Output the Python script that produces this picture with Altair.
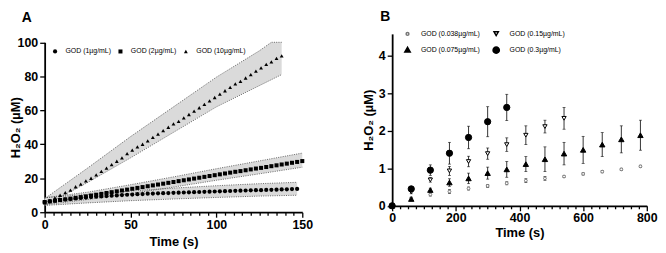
import altair as alt
import pandas as pd

FONT = "Liberation Sans"

# ---------------- Panel A data ----------------
a_series = ["GOD (1µg/mL)", "GOD (2µg/mL)", "GOD (10µg/mL)"]

a_time_1 = [0, 3, 6, 9, 12, 15, 18, 21, 24, 27, 30, 33, 36, 39, 42, 45, 48, 51, 54, 57,
            60, 63, 66, 69, 72, 75, 78, 81, 84, 87, 90, 93, 96, 99, 102, 105, 108, 111, 114, 117,
            120, 123, 126, 129, 132, 135, 138, 141, 144, 147]
a_val_1 = [6.0, 6.4, 6.8, 7.2, 7.5, 7.8, 8.1, 8.4, 8.6, 8.9, 9.1, 9.3, 9.5, 9.7, 9.9, 10.1, 10.3, 10.4, 10.6, 10.7,
           10.9, 11.0, 11.1, 11.2, 11.3, 11.4, 11.5, 11.6, 11.7, 11.8, 11.9, 12.0, 12.1, 12.2, 12.3, 12.4, 12.5, 12.6, 12.7, 12.8,
           12.9, 13.0, 13.0, 13.1, 13.2, 13.3, 13.4, 13.5, 13.6, 13.7]

a_time_2 = [0, 3, 6, 9, 12, 15, 18, 21, 24, 27, 30, 33, 36, 39, 42, 45, 48, 51, 54, 57,
            60, 63, 66, 69, 72, 75, 78, 81, 84, 87, 90, 93, 96, 99, 102, 105, 108, 111, 114, 117,
            120, 123, 126, 129, 132, 135, 138, 141, 144, 147, 150]
a_val_2 = [6.0, 6.4, 6.8, 7.2, 7.6, 8.0, 8.4, 8.9, 9.3, 9.8, 10.3, 10.8, 11.3, 11.8, 12.3, 12.8, 13.3, 13.8, 14.3, 14.8,
           15.3, 15.8, 16.3, 16.8, 17.3, 17.8, 18.3, 18.8, 19.3, 19.8, 20.3, 20.8, 21.3, 21.8, 22.3, 22.8, 23.3, 23.8, 24.2, 24.7,
           25.2, 25.7, 26.1, 26.6, 27.1, 27.6, 28.1, 28.6, 29.1, 29.6, 30.1]

a_time_10 = [0, 3, 6, 9, 12, 15, 18, 21, 24, 27, 30, 33, 36, 39, 42, 45, 48, 51, 54, 57,
             60, 63, 66, 69, 72, 75, 78, 81, 84, 87, 90, 93, 96, 99, 102, 105, 108, 111, 114, 117,
             120, 123, 126, 129, 132, 135, 138]
a_val_10 = [5.5, 7.0, 8.5, 10.0, 11.5, 13.0, 15.0, 16.5, 18.5, 20.0, 22.0, 24.0, 26.0, 28.0, 30.0, 32.0, 34.5, 36.5, 38.5, 40.0,
            42.0, 44.0, 46.0, 48.0, 50.0, 52.0, 53.5, 55.5, 57.5, 59.5, 61.5, 63.5, 65.5, 67.5, 69.5, 71.5, 73.5, 75.5, 77.0, 79.0,
            81.0, 83.0, 85.0, 87.0, 88.5, 90.5, 92.0]

# shaded ranges (lower / upper edge)
band_time_1 = [0, 25, 50, 75, 100, 125, 147]
band_lo_1 = [4.0, 5.5, 6.8, 7.8, 8.7, 9.5, 10.0]
band_hi_1 = [8.5, 10.5, 12.5, 14.2, 15.6, 16.8, 17.6]
band_time_2 = [0, 25, 50, 75, 100, 125, 150]
band_lo_2 = [4.5, 7.5, 11.0, 14.8, 18.8, 22.6, 26.5]
band_hi_2 = [8.5, 11.8, 16.2, 20.8, 25.6, 30.2, 34.8]
band_time_10 = [0, 25, 50, 75, 100, 125, 132, 138]
band_lo_10 = [4.0, 17.5, 32.0, 47.0, 62.0, 74.5, 78.0, 81.0]
band_hi_10 = [8.0, 26.0, 44.5, 62.0, 79.5, 95.0, 100.0, 100.0]

a_x_ticks = [0, 50, 100, 150]
a_y_ticks = [0, 20, 40, 60, 80, 100]

# ---------------- Panel B data ----------------
b_series = ["GOD (0.038µg/mL)", "GOD (0.075µg/mL)", "GOD (0.15µg/mL)", "GOD (0.3µg/mL)"]
b_time_038 = [0, 60, 120, 180, 240, 300, 360, 420, 480, 540, 600, 660, 720, 780]
b_val_038 = [0, 0.20, 0.30, 0.38, 0.46, 0.53, 0.60, 0.67, 0.73, 0.78, 0.85, 0.91, 0.97, 1.05]
b_err_038 = [0, 0.03, 0.04, 0.05, 0.04, 0.04, 0.04, 0.05, 0.05, 0.02, 0.03, 0.03, 0.03, 0.03]
b_time_075 = [0, 60, 120, 180, 240, 300, 360, 420, 480, 540, 600, 660, 720, 780]
b_val_075 = [0, 0.18, 0.42, 0.62, 0.73, 0.87, 0.97, 1.11, 1.24, 1.39, 1.49, 1.63, 1.77, 1.88]
b_err_075 = [0, 0.03, 0.05, 0.10, 0.14, 0.16, 0.21, 0.20, 0.33, 0.30, 0.36, 0.32, 0.36, 0.40]
b_time_015 = [0, 60, 120, 180, 240, 300, 360, 420, 480, 540]
b_val_015 = [0, 0.37, 0.69, 0.93, 1.18, 1.39, 1.63, 1.88, 2.11, 2.33]
b_err_015 = [0, 0.05, 0.06, 0.12, 0.14, 0.15, 0.18, 0.25, 0.17, 0.29]
b_time_03 = [0, 60, 120, 180, 240, 300, 360]
b_val_03 = [0, 0.45, 0.95, 1.40, 1.82, 2.24, 2.62]
b_err_03 = [0, 0.05, 0.14, 0.29, 0.30, 0.40, 0.35]

b_x_ticks = [0, 200, 400, 600, 800]
b_y_ticks = [0, 1, 2, 3, 4]
panel_letters = ["A", "B"]

# ---------------- tables ----------------
rows_a = []
for s, ts, vs in zip(a_series, [a_time_1, a_time_2, a_time_10], [a_val_1, a_val_2, a_val_10]):
    rows_a += [{"series": s, "t": t, "v": v} for t, v in zip(ts, vs)]
df_a = pd.DataFrame(rows_a)

rows_band = []
for s, ts, lo, hi in zip(a_series, [band_time_1, band_time_2, band_time_10],
                         [band_lo_1, band_lo_2, band_lo_10], [band_hi_1, band_hi_2, band_hi_10]):
    rows_band += [{"series": s, "t": t, "lo": l, "hi": h} for t, l, h in zip(ts, lo, hi)]
df_band = pd.DataFrame(rows_band)

rows_b = []
for s, ts, vs, es in zip(b_series, [b_time_038, b_time_075, b_time_015, b_time_03],
                         [b_val_038, b_val_075, b_val_015, b_val_03],
                         [b_err_038, b_err_075, b_err_015, b_err_03]):
    rows_b += [{"grp": s, "t": t, "v": v, "lo": v - e, "hi": v + e} for t, v, e in zip(ts, vs, es)]
df_b = pd.DataFrame(rows_b)

# ---------------- axes ----------------
def minor_axis(major, step, end, title, title_pad):
    vals = []
    x = 0
    while x <= end + 1e-9:
        vals.append(x)
        x += step
    m = major[1]
    return alt.Axis(values=vals, title=title,
                    labelExpr=f"datum.value % {m} === 0 ? datum.label : ''",
                    tickSize={"condition": {"test": f"datum.value % {m} === 0", "value": 5}, "value": 3},
                    labelPadding=1, titlePadding=title_pad, labelFlush=False, labelOverlap=False)

# ---------------- Panel A ----------------
HA = 180
axisAx = minor_axis(a_x_ticks, 5, 150, "Time (s)", 5)
axisAy = alt.Axis(values=a_y_ticks, title="H₂O₂ (µM)", tickSize=5, labelOverlap=False,
                  titleX=-29, titleBaseline="middle")
scAx = alt.Scale(domain=[0, 150], nice=False)
scAy = alt.Scale(domain=[0, 100], range=[HA, 8.5], nice=False)

def ax(f):
    return alt.X(f"{f}:Q", scale=scAx, axis=axisAx)

def ay(f):
    return alt.Y(f"{f}:Q", scale=scAy, axis=axisAy)

bandA = alt.Chart(df_band).mark_area(color="#dadada", opacity=1).encode(
    x=ax("t"), y=ay("lo"), y2="hi:Q", detail="series:N")
edge_lo = alt.Chart(df_band).mark_line(color="#444", strokeDash=[1, 1.3], strokeWidth=0.8).encode(
    x=ax("t"), y=ay("lo"), detail="series:N")
edge_hi = alt.Chart(df_band).mark_line(color="#444", strokeDash=[1, 1.3], strokeWidth=0.8).encode(
    x=ax("t"), y=ay("hi"), detail="series:N")

legA = alt.Legend(orient="none", legendX=7, legendY=14, direction="horizontal", title=None,
                  labelFont=FONT, labelFontSize=7, labelColor="black", columnPadding=5,
                  labelOffset=7, padding=0, symbolStrokeWidth=0)
ptsA = alt.Chart(df_a).mark_point(filled=True, color="black", opacity=1).encode(
    x=ax("t"), y=ay("v"),
    shape=alt.Shape("series:N", scale=alt.Scale(domain=a_series, range=["circle", "square", "triangle-up"]), legend=legA),
    size=alt.Size("series:N", scale=alt.Scale(domain=a_series, range=[18, 15, 14]), legend=legA))

letterA = alt.Chart(pd.DataFrame({"L": [panel_letters[0]]})).mark_text(
    font=FONT, fontSize=14, fontWeight="bold", align="center", baseline="middle").encode(
    text="L:N", x=alt.value(-18), y=alt.value(-16))

panelA = alt.layer(bandA, edge_lo, edge_hi, ptsA, letterA).properties(width=260, height=HA)

# ---------------- Panel B ----------------
HB = 173.5
axisBx = minor_axis(b_x_ticks, 25, 800, "Time (s)", 3)
axisBy = alt.Axis(values=b_y_ticks, title="H₂O₂ (µM)", tickSize=5, labelOverlap=False,
                  titleX=-23.7, titleBaseline="middle")
scBx = alt.Scale(domain=[0, 800], nice=False)
scBy = alt.Scale(domain=[0, 4.58], nice=False)

def bx(f):
    return alt.X(f"{f}:Q", scale=scBx, axis=axisBx)

def by(f):
    return alt.Y(f"{f}:Q", scale=scBy, axis=axisBy)

err = alt.Chart(df_b).mark_rule(color="black", strokeWidth=0.8).encode(x=bx("t"), y=by("lo"), y2="hi:Q")
cap_lo = alt.Chart(df_b).mark_tick(color="black", orient="horizontal", size=3, thickness=0.8).encode(
    x=bx("t"), y=by("lo"))
cap_hi = alt.Chart(df_b).mark_tick(color="black", orient="horizontal", size=3, thickness=0.8).encode(
    x=bx("t"), y=by("hi"))

legend_order = [b_series[0], b_series[2], b_series[1], b_series[3]]
legB = alt.Legend(orient="none", legendX=11.5, legendY=-4, direction="horizontal", columns=2, title=None,
                  labelFont=FONT, labelFontSize=7, labelColor="black", columnPadding=8.5, rowPadding=4.4,
                  labelOffset=9.5, padding=0)
ptsB = alt.Chart(df_b).mark_point(opacity=1, strokeWidth=1).encode(
    x=bx("t"), y=by("v"),
    shape=alt.Shape("grp:N", scale=alt.Scale(domain=legend_order,
                    range=["circle", "triangle-down", "triangle-up", "circle"]), legend=legB),
    size=alt.Size("grp:N", scale=alt.Scale(domain=legend_order, range=[8, 40, 30, 36]), legend=legB),
    fill=alt.Fill("grp:N", scale=alt.Scale(domain=legend_order, range=["white", "white", "black", "black"]), legend=legB),
    stroke=alt.Stroke("grp:N", scale=alt.Scale(domain=legend_order, range=["#777", "black", "black", "black"]), legend=legB))

letterB = alt.Chart(pd.DataFrame({"L": [panel_letters[1]]})).mark_text(
    font=FONT, fontSize=14, fontWeight="bold", align="center", baseline="middle").encode(
    text="L:N", x=alt.value(-7), y=alt.value(-16.5))

panelB = alt.layer(err, cap_lo, cap_hi, ptsB, letterB).properties(width=257, height=HB)

chart = alt.hconcat(panelA, panelB, spacing=90.7, bounds="flush").resolve_scale(
    shape="independent", size="independent", fill="independent", stroke="independent", color="independent"
).properties(padding={"left": 2, "top": 1, "right": 0, "bottom": 0}).configure_view(stroke=None).configure_axis(
    domainColor="black", domainWidth=1.8, tickColor="black", tickWidth=1.3, grid=False,
    labelFont=FONT, labelFontSize=12.5, labelFontWeight="bold", labelColor="black",
    titleFont=FONT, titleFontSize=13, titleFontWeight="bold", titleColor="black"
)

chart.save("out.html", embed_options={"renderer": "svg", "actions": False})
